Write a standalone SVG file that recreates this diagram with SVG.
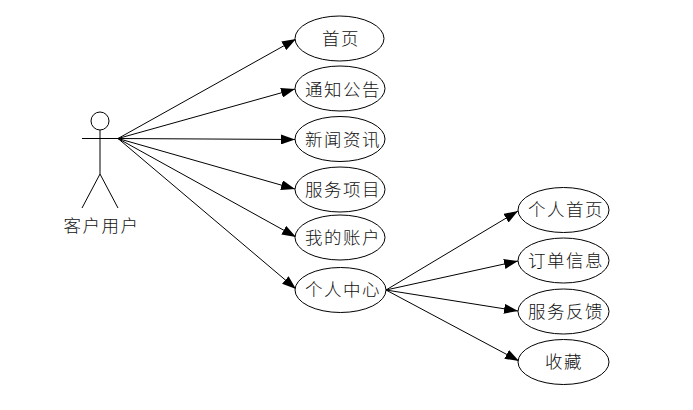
<svg xmlns="http://www.w3.org/2000/svg" width="693" height="410" viewBox="0 0 693 410">
<style>
.n{fill:#fff;stroke:#000;stroke-width:1}
.c{stroke:#000;stroke-width:1;fill:none;marker-end:url(#a)}
.s{stroke:#000;stroke-width:1;fill:none}
text{font-family:"Noto Sans CJK SC","Noto Sans",sans-serif;font-size:17.500px;font-weight:300;fill:#111;text-anchor:middle;letter-spacing:1.500px}
</style>
<defs><marker id="a" markerUnits="userSpaceOnUse" markerWidth="14" markerHeight="10" refX="14" refY="5" orient="auto"><path d="M0 0L14 5L0 10Z" fill="#000"/></marker></defs>
<rect width="693" height="410" fill="#fff"/>
<g id="connectors">
<path class="c" d="M118 138.500L296 39"/>
<path class="c" d="M118 138.500L295 89"/>
<path class="c" d="M118 138.500L295 139.500"/>
<path class="c" d="M118 138.500L295 189"/>
<path class="c" d="M118 138.500L296 237"/>
<path class="c" d="M118 138.500L296 289"/>
<path class="c" d="M386 290L518 211"/>
<path class="c" d="M386 290L518 261"/>
<path class="c" d="M386 290L518 311"/>
<path class="c" d="M386 290L519 361"/>
</g>
<g id="actor">
<circle class="s" cx="100" cy="121" r="9"/>
<path class="s" d="M100 130V174M82 138.500H118M100 174L82 208M100 174L118 208"/>
<text x="101.500" y="232">客户用户</text>
</g>
<g id="n1"><ellipse class="n" cx="339.500" cy="38.500" rx="44.500" ry="22.500"/><text x="341" y="45">首页</text></g>
<g id="n2"><ellipse class="n" cx="340" cy="88.500" rx="45" ry="22.500"/><text x="343" y="96">通知公告</text></g>
<g id="n3"><ellipse class="n" cx="340" cy="139" rx="45" ry="22.500"/><text x="343" y="146">新闻资讯</text></g>
<g id="n4"><ellipse class="n" cx="340" cy="189.500" rx="45" ry="22.500"/><text x="343" y="196">服务项目</text></g>
<g id="n5"><ellipse class="n" cx="340" cy="237.500" rx="45" ry="22.500"/><text x="343" y="244">我的账户</text></g>
<g id="n6"><ellipse class="n" cx="340.500" cy="290" rx="45.500" ry="22.500"/><text x="343" y="296">个人中心</text></g>
<g id="n7"><ellipse class="n" cx="563.500" cy="210" rx="45.500" ry="22.500"/><text x="566" y="216">个人首页</text></g>
<g id="n8"><ellipse class="n" cx="563.500" cy="260.500" rx="45.500" ry="22.500"/><text x="566" y="267">订单信息</text></g>
<g id="n9"><ellipse class="n" cx="563.500" cy="311.500" rx="45.500" ry="22.500"/><text x="566" y="318">服务反馈</text></g>
<g id="n10"><ellipse class="n" cx="563.500" cy="362" rx="45.500" ry="22.500"/><text x="564" y="368">收藏</text></g>
</svg>
